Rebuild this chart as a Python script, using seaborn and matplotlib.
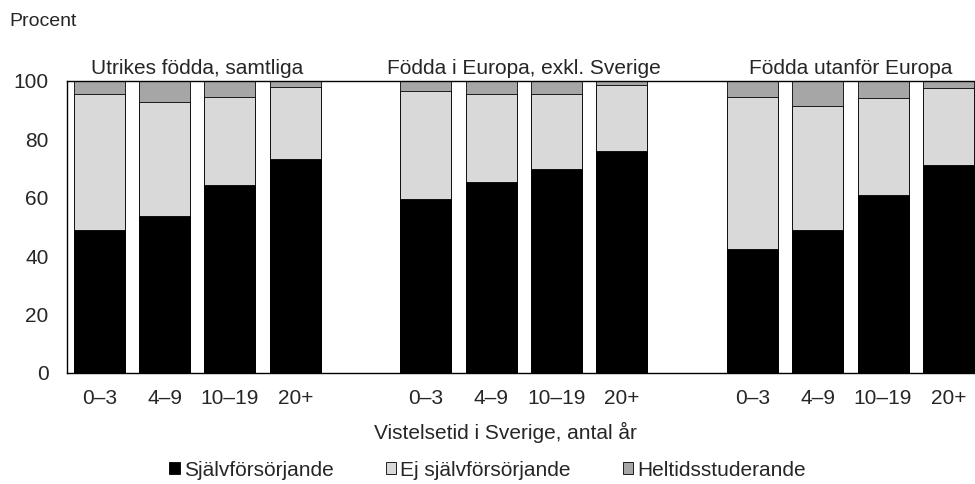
import numpy as np
import pandas as pd
import matplotlib
matplotlib.use("Agg")
import matplotlib.pyplot as plt
import seaborn as sns
from matplotlib.patches import Patch
from matplotlib.ticker import FixedLocator
from matplotlib.transforms import blended_transform_factory

# --- Data (procent) ---
groups = ["Utrikes födda, samtliga", "Födda i Europa, exkl. Sverige", "Födda utanför Europa"]
cats = ["0–3", "4–9", "10–19", "20+"]
series = ["Självförsörjande", "Ej självförsörjande", "Heltidsstuderande"]

sjalvforsorjande = [48.8, 53.7, 64.3, 73.4, 59.4, 65.4, 69.8, 75.9, 42.3, 49.0, 60.9, 71.2]
ej_sjalvforsorjande = [46.6, 39.0, 30.3, 24.5, 37.3, 30.3, 25.6, 22.6, 52.3, 42.4, 33.2, 26.4]
heltidsstuderande = [4.6, 7.3, 5.4, 2.1, 3.3, 4.3, 4.6, 1.5, 5.4, 8.6, 5.9, 2.4]

BLACK, LIGHT, MID = "#000000", "#d9d9d9", "#a6a6a6"
FS = 15

rows = []
for g, grp in enumerate(groups):
    for i, c in enumerate(cats):
        k = g * 4 + i
        rows.append({"pos": g * 5 + i, "grupp": grp, "kat": c,
                     "sj": sjalvforsorjande[k], "ej": ej_sjalvforsorjande[k],
                     "helt": heltidsstuderande[k]})
df = pd.DataFrame(rows)
df["top2"] = df["sj"] + df["ej"]
df["top3"] = df["top2"] + df["helt"]

sns.set_style("white")
plt.rcParams["font.family"] = ["Liberation Sans", "DejaVu Sans"]

fig = plt.figure(figsize=(9.75, 4.84), dpi=100)
ax = fig.add_axes([66.7 / 975, 111.3 / 484, (981 - 66.7) / 975, 291.7 / 484])

# stacked bars by layering cumulative heights
for col, color in [("top3", MID), ("top2", LIGHT), ("sj", BLACK)]:
    sns.barplot(data=df, x="pos", y=col, native_scale=True, width=0.78,
                color=color, saturation=1, edgecolor="black", linewidth=0.6,
                errorbar=None, ax=ax)

ax.set_xlim(-0.5, 13.5)
ax.set_ylim(0, 100)
ax.set_xticks(df["pos"])
ax.set_xticklabels(df["kat"])
ax.xaxis.set_minor_locator(FixedLocator(np.arange(-0.5, 14, 1)))
ax.tick_params(axis="x", which="major", length=0, pad=12, labelsize=FS)
ax.tick_params(axis="x", which="minor", length=9, direction="inout", width=0.8, color="black")
ax.set_yticks(range(0, 101, 20))
ax.tick_params(axis="y", length=0, pad=13, labelsize=FS)
ax.set_xlabel("")
ax.set_ylabel("")
for s in ax.spines.values():
    s.set_color("black")
    s.set_linewidth(1)

# group titles
trans = blended_transform_factory(ax.transData, ax.transAxes)
for g, grp in enumerate(groups):
    ax.text(g * 5 + 1.5, 1.024, grp, transform=trans, ha="center", va="baseline", fontsize=FS)

fig.text(9 / 975, 1 - 21 / 484, "Procent", ha="left", va="center", fontsize=14)
fig.text(505 / 975, 1 - 432 / 484, "Vistelsetid i Sverige, antal år", ha="center", va="center", fontsize=FS)

handles = [Patch(facecolor=c, edgecolor="black", linewidth=0.6) for c in (BLACK, LIGHT, MID)]
fig.legend(handles, series, loc="center", bbox_to_anchor=(0.5, 1 - 470 / 484), ncol=3,
           frameon=False, handlelength=0.5, handleheight=0.5, handletextpad=0.2,
           columnspacing=2.5, fontsize=FS)

fig.savefig("out.png", dpi=100)
